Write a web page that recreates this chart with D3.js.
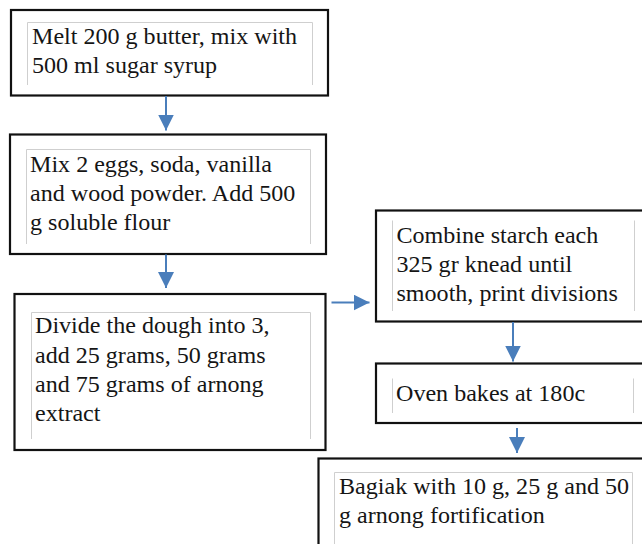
<!DOCTYPE html>
<html>
<head>
<meta charset="utf-8">
<script src="https://cdn.jsdelivr.net/npm/d3@7"></script>
<style>
  html, body { margin: 0; padding: 0; background: #fff; }
  svg { display: block; }
</style>
</head>
<body>
<svg id="chart" width="642" height="544"></svg>
<script>
// ---- data: flowchart steps (text content) ----
const stepIds = ["melt", "mix", "divide", "combine", "oven", "bagiak"];
const stepLines = [
  ["Melt 200 g butter, mix with", "500 ml sugar syrup"],
  ["Mix 2 eggs, soda, vanilla", "and wood powder. Add 500", "g soluble flour"],
  ["Divide the dough into 3,", "add 25 grams, 50 grams", "and 75 grams of arnong", "extract"],
  ["Combine starch each", "325 gr knead until", "smooth, print divisions"],
  ["Oven bakes at 180c"],
  ["Bagiak with 10 g, 25 g and 50", "g arnong fortification"]
];
const links = [
  ["melt", "mix"],
  ["mix", "divide"],
  ["divide", "combine"],
  ["combine", "oven"],
  ["oven", "bagiak"]
];

// ---- layout (positions/sizes kept separate from data) ----
const boxLayout = {
  melt:    {x1: 11,  y1: 10,    x2: 328,   y2: 95.5, ix1: 27,  ix2: 312, iy1: 22,  iy2: 85,  top: true,  tx: 32,  ty: 44},
  mix:     {x1: 10,  y1: 134.5, x2: 326,   y2: 254,  ix1: 26,  ix2: 310, iy1: 149, iy2: 244, top: true,  tx: 30,  ty: 171.7},
  divide:  {x1: 14.5,y1: 294,   x2: 325.5, y2: 450,  ix1: 31,  ix2: 310, iy1: 312, iy2: 439, top: true,  tx: 35,  ty: 333.3},
  combine: {x1: 376, y1: 210.5, x2: 660,   y2: 321.5,ix1: 392, ix2: 634, iy1: 220, iy2: 311, top: false, tx: 396.5, ty: 242.7},
  oven:    {x1: 376, y1: 363.5, x2: 660,   y2: 423,  ix1: 392, ix2: 633, iy1: 378, iy2: 413, top: false, tx: 396, ty: 401},
  bagiak:  {x1: 318.5,y1: 458.5,x2: 660,   y2: 570,  ix1: 334, ix2: 632, iy1: 472, iy2: 560, top: true,  tx: 339, ty: 494}
};
const arrowLayout = [
  {x1: 166, y1: 96,  x2: 166, y2: 130.5},
  {x1: 166, y1: 254.5, x2: 166, y2: 288},
  {x1: 331.5, y1: 302.5, x2: 369.5, y2: 302.5},
  {x1: 513, y1: 322, x2: 513, y2: 361.5},
  {x1: 517, y1: 428, x2: 517, y2: 453}
];
const lineHeight = 29.3;
const fontFamily = "'Liberation Serif', 'Times New Roman', serif";
const fitTargets = [
  ["Melt 200 g butter, mix with", 268],
  ["Bagiak with 10 g, 25 g and 50", 285],
  ["Divide the dough into 3,", 234],
  ["smooth, print divisions", 225],
  ["Oven bakes at 180c", 188]
];

const svg = d3.select("#chart");

// measure font size so text widths match the reference
const probe = svg.append("text").attr("font-family", fontFamily).attr("font-size", 20);
let ratioSum = 0;
fitTargets.forEach(([t, w]) => {
  probe.text(t);
  ratioSum += w / probe.node().getComputedTextLength();
});
probe.remove();
const fontSize = 20 * ratioSum / fitTargets.length;

const steps = stepIds.map((id, i) => ({id, lines: stepLines[i], L: boxLayout[id]}));

// arrow marker
const defs = svg.append("defs");
defs.append("marker")
  .attr("id", "head")
  .attr("viewBox", "0 0 16 16")
  .attr("refX", 16).attr("refY", 8)
  .attr("markerWidth", 16).attr("markerHeight", 16)
  .attr("markerUnits", "userSpaceOnUse")
  .attr("orient", "auto")
  .append("path")
  .attr("d", "M0,0 L16,8 L0,16 Z")
  .attr("fill", "#4a7ebb");

const g = svg.append("g");

const box = g.selectAll("g.step").data(steps).join("g").attr("class", "step");

box.append("rect")
  .attr("x", d => d.L.x1).attr("y", d => d.L.y1)
  .attr("width", d => d.L.x2 - d.L.x1).attr("height", d => d.L.y2 - d.L.y1)
  .attr("fill", "#fff").attr("stroke", "#111").attr("stroke-width", 2.2);

// inner light guide lines
box.append("path")
  .attr("d", d => {
    const L = d.L;
    return `M${L.ix1 + 0.5},${L.iy2} L${L.ix1 + 0.5},${L.iy1 + 0.5} ` +
           (L.top ? `L${L.ix2 + 0.5},${L.iy1 + 0.5} ` : `M${L.ix2 + 0.5},${L.iy1 + 0.5} `) +
           `L${L.ix2 + 0.5},${L.iy2}`;
  })
  .attr("fill", "none").attr("stroke", "#cfcfcf").attr("stroke-width", 1);

box.append("text")
  .attr("font-family", fontFamily)
  .attr("font-size", fontSize)
  .attr("fill", "#151515")
  .selectAll("tspan").data(d => d.lines.map((t, i) => ({t, i, L: d.L}))).join("tspan")
  .attr("x", d => d.L.tx)
  .attr("y", d => d.L.ty + d.i * lineHeight)
  .text(d => d.t);

g.selectAll("line.arrow").data(links.map((l, i) => ({link: l, A: arrowLayout[i]}))).join("line")
  .attr("class", "arrow")
  .attr("x1", d => d.A.x1).attr("y1", d => d.A.y1)
  .attr("x2", d => d.A.x2).attr("y2", d => d.A.y2)
  .attr("stroke", "#4a7ebb").attr("stroke-width", 2)
  .attr("marker-end", "url(#head)");
</script>
</body>
</html>
